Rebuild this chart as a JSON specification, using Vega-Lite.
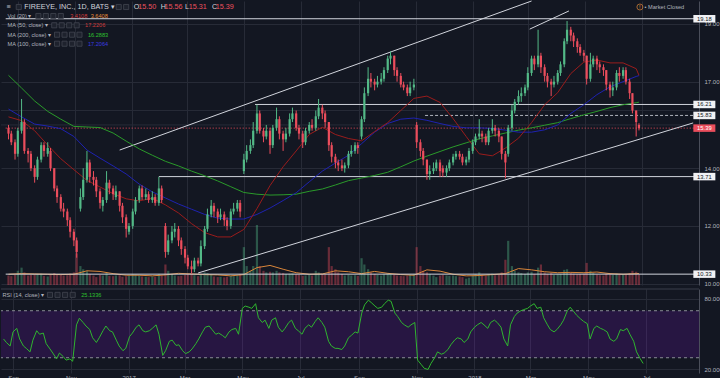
{
"$schema": "https://vega.github.io/schema/vega-lite/v6.json",
"background": "#131722",
"padding": 0,
"spacing": 1,
"config": {"view": {"stroke": null}, "font": "Liberation Sans", "axis": {"labelColor": "#b2b5be", "labelFontSize": 6, "labelFont": "Liberation Sans", "labelOverlap": false, "gridColor": "#272b37", "domainColor": "#4a4e5a", "tickColor": "#4a4e5a"}},
"datasets": {
"k": [
{"d":"2016-08-22","o":15.4,"h":15.5,"l":15.0,"c":15.2,"v":3.0,"r":46},
{"d":"2016-08-25","o":15.2,"h":15.3,"l":14.8,"c":14.9,"v":2.8,"r":43},
{"d":"2016-08-29","o":14.9,"h":15.0,"l":14.3,"c":14.5,"v":3.2,"r":40},
{"d":"2016-09-01","o":14.5,"h":15.4,"l":14.4,"c":15.3,"v":4.5,"r":52},
{"d":"2016-09-05","o":15.3,"h":16.4,"l":15.2,"c":15.6,"v":5.5,"r":55},
{"d":"2016-09-08","o":15.6,"h":15.7,"l":14.5,"c":14.6,"v":4.0,"r":46},
{"d":"2016-09-12","o":14.6,"h":14.7,"l":14.2,"c":14.5,"v":3.0,"r":40},
{"d":"2016-09-15","o":14.5,"h":14.6,"l":13.9,"c":14.0,"v":3.2,"r":38},
{"d":"2016-09-19","o":14.0,"h":14.1,"l":13.5,"c":13.7,"v":3.4,"r":35},
{"d":"2016-09-22","o":13.7,"h":14.4,"l":13.6,"c":14.3,"v":3.5,"r":45},
{"d":"2016-09-26","o":14.3,"h":14.9,"l":14.2,"c":14.8,"v":3.6,"r":53},
{"d":"2016-09-29","o":14.8,"h":14.9,"l":14.4,"c":14.6,"v":2.9,"r":50},
{"d":"2016-10-03","o":14.5,"h":14.9,"l":14.4,"c":14.7,"v":2.7,"r":51},
{"d":"2016-10-06","o":14.6,"h":14.7,"l":13.9,"c":14.0,"v":3.3,"r":42},
{"d":"2016-10-10","o":14.0,"h":14.0,"l":13.2,"c":13.3,"v":3.8,"r":37.5},
{"d":"2016-10-13","o":13.3,"h":13.4,"l":12.8,"c":13.0,"v":3.5,"r":34},
{"d":"2016-10-17","o":13.0,"h":13.1,"l":12.5,"c":12.6,"v":3.2,"r":29},
{"d":"2016-10-20","o":12.6,"h":12.8,"l":12.3,"c":12.5,"v":3.0,"r":34},
{"d":"2016-10-24","o":12.5,"h":12.6,"l":12.0,"c":12.2,"v":3.1,"r":31},
{"d":"2016-10-27","o":12.2,"h":12.3,"l":11.6,"c":11.8,"v":3.6,"r":28},
{"d":"2016-10-31","o":11.8,"h":11.9,"l":11.3,"c":11.5,"v":4.0,"r":29},
{"d":"2016-11-03","o":11.5,"h":11.6,"l":10.9,"c":11.1,"v":10.0,"r":27},
{"d":"2016-11-07","o":12.6,"h":13.3,"l":12.5,"c":13.0,"v":6.0,"r":58},
{"d":"2016-11-10","o":13.0,"h":14.0,"l":12.9,"c":13.6,"v":5.0,"r":63.6},
{"d":"2016-11-14","o":13.6,"h":14.6,"l":13.5,"c":14.2,"v":4.5,"r":60},
{"d":"2016-11-17","o":14.2,"h":14.3,"l":13.5,"c":13.7,"v":3.5,"r":57},
{"d":"2016-11-21","o":13.7,"h":13.9,"l":13.4,"c":13.6,"v":3.0,"r":54},
{"d":"2016-11-24","o":13.6,"h":13.7,"l":13.0,"c":13.2,"v":2.5,"r":47},
{"d":"2016-11-28","o":13.2,"h":13.3,"l":12.6,"c":12.8,"v":3.2,"r":43},
{"d":"2016-12-01","o":12.7,"h":13.0,"l":12.5,"c":12.9,"v":3.0,"r":47},
{"d":"2016-12-05","o":12.9,"h":13.9,"l":12.8,"c":13.5,"v":3.8,"r":53},
{"d":"2016-12-08","o":13.5,"h":13.6,"l":13.1,"c":13.3,"v":2.9,"r":57},
{"d":"2016-12-12","o":13.3,"h":13.4,"l":12.9,"c":13.1,"v":2.8,"r":53},
{"d":"2016-12-15","o":13.0,"h":13.4,"l":12.9,"c":13.2,"v":3.0,"r":52},
{"d":"2016-12-19","o":13.2,"h":13.2,"l":12.5,"c":12.7,"v":3.1,"r":45},
{"d":"2016-12-22","o":12.7,"h":12.8,"l":12.1,"c":12.3,"v":2.6,"r":40},
{"d":"2016-12-26","o":12.3,"h":12.4,"l":11.6,"c":11.9,"v":2.8,"r":36},
{"d":"2016-12-29","o":11.8,"h":12.1,"l":11.7,"c":12.0,"v":3.0,"r":38},
{"d":"2017-01-02","o":12.0,"h":12.6,"l":11.9,"c":12.5,"v":3.4,"r":48},
{"d":"2017-01-05","o":12.5,"h":13.0,"l":12.4,"c":12.9,"v":3.3,"r":51},
{"d":"2017-01-09","o":12.9,"h":13.4,"l":12.8,"c":13.3,"v":3.1,"r":56},
{"d":"2017-01-12","o":13.3,"h":13.4,"l":12.9,"c":13.0,"v":2.7,"r":58},
{"d":"2017-01-16","o":13.0,"h":13.3,"l":12.9,"c":13.1,"v":2.6,"r":53},
{"d":"2017-01-19","o":13.1,"h":13.2,"l":12.8,"c":12.9,"v":2.5,"r":52},
{"d":"2017-01-23","o":12.9,"h":13.2,"l":12.8,"c":13.0,"v":2.7,"r":53},
{"d":"2017-01-26","o":13.0,"h":13.1,"l":12.7,"c":12.8,"v":2.6,"r":55},
{"d":"2017-01-30","o":12.8,"h":13.7,"l":12.7,"c":13.3,"v":3.5,"r":58},
{"d":"2017-02-02","o":13.3,"h":13.4,"l":12.8,"c":12.9,"v":3.0,"r":50},
{"d":"2017-02-06","o":12.0,"h":12.1,"l":10.9,"c":11.1,"v":6.5,"r":32},
{"d":"2017-02-09","o":11.1,"h":11.7,"l":11.0,"c":11.5,"v":4.5,"r":36},
{"d":"2017-02-13","o":11.5,"h":12.0,"l":11.4,"c":11.8,"v":3.5,"r":44},
{"d":"2017-02-16","o":11.8,"h":12.1,"l":11.6,"c":11.9,"v":3.0,"r":45},
{"d":"2017-02-20","o":11.9,"h":12.0,"l":11.3,"c":11.5,"v":2.8,"r":40.5},
{"d":"2017-02-23","o":11.5,"h":11.6,"l":11.0,"c":11.2,"v":2.9,"r":41},
{"d":"2017-02-27","o":11.2,"h":11.3,"l":10.7,"c":10.9,"v":3.2,"r":36},
{"d":"2017-03-02","o":10.9,"h":11.0,"l":10.5,"c":10.6,"v":3.4,"r":33.5},
{"d":"2017-03-06","o":10.6,"h":10.8,"l":10.35,"c":10.5,"v":3.6,"r":35},
{"d":"2017-03-09","o":10.5,"h":10.9,"l":10.4,"c":10.8,"v":3.1,"r":37.5},
{"d":"2017-03-13","o":10.8,"h":10.9,"l":10.6,"c":10.7,"v":2.8,"r":42},
{"d":"2017-03-16","o":10.7,"h":11.5,"l":10.6,"c":11.3,"v":3.5,"r":46},
{"d":"2017-03-20","o":11.3,"h":12.0,"l":11.2,"c":11.9,"v":4.0,"r":52},
{"d":"2017-03-23","o":11.9,"h":12.6,"l":11.8,"c":12.4,"v":3.8,"r":56},
{"d":"2017-03-27","o":12.4,"h":12.9,"l":12.3,"c":12.7,"v":3.3,"r":57},
{"d":"2017-03-30","o":12.7,"h":12.8,"l":12.3,"c":12.5,"v":2.7,"r":54},
{"d":"2017-04-03","o":12.5,"h":12.6,"l":12.1,"c":12.3,"v":2.5,"r":50},
{"d":"2017-04-06","o":12.3,"h":12.6,"l":12.2,"c":12.4,"v":2.6,"r":51},
{"d":"2017-04-10","o":12.4,"h":12.5,"l":12.0,"c":12.2,"v":2.4,"r":49},
{"d":"2017-04-13","o":12.2,"h":12.3,"l":11.85,"c":12.0,"v":2.6,"r":47},
{"d":"2017-04-17","o":12.0,"h":12.6,"l":11.9,"c":12.5,"v":2.9,"r":52},
{"d":"2017-04-20","o":12.5,"h":12.8,"l":12.4,"c":12.6,"v":2.8,"r":54},
{"d":"2017-04-24","o":12.6,"h":12.9,"l":12.5,"c":12.8,"v":3.0,"r":55},
{"d":"2017-04-27","o":12.8,"h":12.9,"l":12.3,"c":12.5,"v":3.5,"r":50},
{"d":"2017-05-01","o":13.9,"h":14.5,"l":13.8,"c":14.3,"v":12.0,"r":72},
{"d":"2017-05-04","o":14.3,"h":14.8,"l":14.2,"c":14.6,"v":6.0,"r":74},
{"d":"2017-05-08","o":14.6,"h":15.0,"l":14.5,"c":14.8,"v":4.5,"r":73},
{"d":"2017-05-11","o":14.8,"h":15.6,"l":14.7,"c":15.3,"v":6.0,"r":72},
{"d":"2017-05-15","o":15.3,"h":16.2,"l":15.2,"c":15.9,"v":19.0,"r":76},
{"d":"2017-05-18","o":15.9,"h":16.0,"l":15.2,"c":15.3,"v":6.0,"r":64},
{"d":"2017-05-22","o":15.3,"h":15.4,"l":14.9,"c":15.1,"v":4.5,"r":60},
{"d":"2017-05-25","o":15.1,"h":15.5,"l":15.0,"c":15.3,"v":4.0,"r":62},
{"d":"2017-05-29","o":15.3,"h":15.4,"l":14.5,"c":14.8,"v":4.2,"r":55},
{"d":"2017-06-01","o":14.8,"h":15.5,"l":14.7,"c":15.4,"v":4.0,"r":62},
{"d":"2017-06-05","o":15.4,"h":16.1,"l":15.3,"c":15.7,"v":4.5,"r":64},
{"d":"2017-06-08","o":15.7,"h":15.8,"l":15.0,"c":15.2,"v":4.0,"r":56},
{"d":"2017-06-12","o":15.2,"h":15.3,"l":14.6,"c":15.0,"v":3.8,"r":52},
{"d":"2017-06-15","o":15.0,"h":15.4,"l":14.9,"c":15.2,"v":3.5,"r":55},
{"d":"2017-06-19","o":15.2,"h":15.9,"l":15.1,"c":15.7,"v":3.6,"r":60},
{"d":"2017-06-22","o":15.7,"h":16.1,"l":15.6,"c":15.9,"v":3.7,"r":62},
{"d":"2017-06-26","o":15.9,"h":16.0,"l":15.3,"c":15.4,"v":3.4,"r":55},
{"d":"2017-06-29","o":15.4,"h":15.5,"l":15.0,"c":15.2,"v":3.3,"r":53},
{"d":"2017-07-03","o":15.2,"h":15.3,"l":14.7,"c":14.9,"v":2.9,"r":50},
{"d":"2017-07-06","o":14.9,"h":15.4,"l":14.8,"c":15.3,"v":3.0,"r":55},
{"d":"2017-07-10","o":15.3,"h":15.6,"l":15.2,"c":15.5,"v":3.2,"r":58},
{"d":"2017-07-13","o":15.5,"h":15.7,"l":15.3,"c":15.4,"v":3.0,"r":56},
{"d":"2017-07-17","o":15.4,"h":16.0,"l":15.3,"c":15.8,"v":4.5,"r":61},
{"d":"2017-07-20","o":15.8,"h":16.4,"l":15.7,"c":16.1,"v":4.0,"r":64},
{"d":"2017-07-24","o":16.1,"h":16.2,"l":15.7,"c":15.9,"v":3.5,"r":60},
{"d":"2017-07-27","o":15.9,"h":16.0,"l":15.4,"c":15.6,"v":3.4,"r":56},
{"d":"2017-07-31","o":15.6,"h":15.6,"l":14.6,"c":14.8,"v":12.0,"r":44},
{"d":"2017-08-03","o":14.8,"h":14.9,"l":14.2,"c":14.4,"v":6.0,"r":40},
{"d":"2017-08-07","o":14.4,"h":14.5,"l":14.0,"c":14.2,"v":5.0,"r":38},
{"d":"2017-08-10","o":14.2,"h":14.3,"l":13.9,"c":14.1,"v":4.0,"r":38},
{"d":"2017-08-14","o":14.1,"h":14.3,"l":13.9,"c":14.0,"v":3.5,"r":37},
{"d":"2017-08-17","o":14.0,"h":14.2,"l":13.85,"c":14.1,"v":3.0,"r":40},
{"d":"2017-08-21","o":14.1,"h":14.6,"l":14.0,"c":14.5,"v":3.2,"r":47},
{"d":"2017-08-24","o":14.5,"h":14.8,"l":14.4,"c":14.6,"v":3.0,"r":49},
{"d":"2017-08-28","o":14.6,"h":14.9,"l":14.5,"c":14.8,"v":3.1,"r":52},
{"d":"2017-08-31","o":14.8,"h":14.9,"l":14.5,"c":14.7,"v":2.9,"r":51},
{"d":"2017-09-04","o":15.1,"h":15.8,"l":15.0,"c":15.7,"v":8.5,"r":68},
{"d":"2017-09-07","o":15.7,"h":16.8,"l":15.6,"c":16.6,"v":6.5,"r":75},
{"d":"2017-09-11","o":16.6,"h":17.5,"l":16.5,"c":17.1,"v":5.0,"r":79},
{"d":"2017-09-14","o":17.1,"h":17.3,"l":16.8,"c":17.0,"v":4.0,"r":77},
{"d":"2017-09-18","o":17.0,"h":17.1,"l":16.7,"c":16.9,"v":3.5,"r":74},
{"d":"2017-09-21","o":16.9,"h":17.2,"l":16.8,"c":17.0,"v":3.2,"r":72},
{"d":"2017-09-25","o":17.0,"h":17.3,"l":16.9,"c":17.1,"v":3.0,"r":73},
{"d":"2017-09-28","o":17.1,"h":17.5,"l":17.0,"c":17.4,"v":3.4,"r":76},
{"d":"2017-10-02","o":17.4,"h":17.9,"l":17.3,"c":17.8,"v":3.8,"r":79},
{"d":"2017-10-05","o":17.8,"h":18.05,"l":17.6,"c":17.9,"v":3.5,"r":78},
{"d":"2017-10-09","o":17.9,"h":17.9,"l":17.2,"c":17.4,"v":3.3,"r":68},
{"d":"2017-10-12","o":17.4,"h":17.5,"l":17.0,"c":17.2,"v":3.0,"r":65},
{"d":"2017-10-16","o":17.2,"h":17.3,"l":16.8,"c":16.9,"v":2.9,"r":60},
{"d":"2017-10-19","o":16.9,"h":17.0,"l":16.7,"c":16.8,"v":2.8,"r":58},
{"d":"2017-10-23","o":16.8,"h":16.9,"l":16.5,"c":16.6,"v":3.0,"r":56},
{"d":"2017-10-26","o":16.6,"h":17.0,"l":16.5,"c":16.8,"v":3.2,"r":58},
{"d":"2017-10-30","o":16.8,"h":17.1,"l":16.7,"c":16.9,"v":3.5,"r":60},
{"d":"2017-11-02","o":15.5,"h":15.6,"l":14.7,"c":14.9,"v":12.0,"r":28},
{"d":"2017-11-06","o":14.9,"h":15.0,"l":14.4,"c":14.6,"v":6.0,"r":24},
{"d":"2017-11-09","o":14.6,"h":14.7,"l":14.1,"c":14.3,"v":4.5,"r":21},
{"d":"2017-11-13","o":14.3,"h":14.3,"l":13.6,"c":13.8,"v":4.0,"r":20},
{"d":"2017-11-16","o":13.8,"h":14.1,"l":13.6,"c":13.9,"v":3.5,"r":25},
{"d":"2017-11-20","o":13.9,"h":14.2,"l":13.8,"c":14.0,"v":3.0,"r":30},
{"d":"2017-11-23","o":14.0,"h":14.3,"l":13.9,"c":14.2,"v":2.5,"r":35},
{"d":"2017-11-27","o":14.2,"h":14.3,"l":13.7,"c":13.9,"v":3.0,"r":33},
{"d":"2017-11-30","o":14.0,"h":14.1,"l":13.7,"c":13.85,"v":3.2,"r":34},
{"d":"2017-12-04","o":13.85,"h":14.1,"l":13.7,"c":14.0,"v":3.0,"r":37},
{"d":"2017-12-07","o":14.0,"h":14.3,"l":13.9,"c":14.2,"v":2.9,"r":41},
{"d":"2017-12-11","o":14.2,"h":14.5,"l":14.1,"c":14.4,"v":3.0,"r":45},
{"d":"2017-12-14","o":14.4,"h":14.6,"l":14.3,"c":14.5,"v":2.8,"r":47},
{"d":"2017-12-18","o":14.5,"h":14.6,"l":14.3,"c":14.4,"v":2.7,"r":46},
{"d":"2017-12-21","o":14.4,"h":14.5,"l":14.1,"c":14.2,"v":2.5,"r":43},
{"d":"2017-12-25","o":14.2,"h":14.4,"l":14.1,"c":14.3,"v":2.0,"r":46},
{"d":"2017-12-28","o":14.3,"h":14.7,"l":14.2,"c":14.6,"v":2.3,"r":52},
{"d":"2018-01-01","o":14.6,"h":15.0,"l":14.5,"c":14.9,"v":3.0,"r":56},
{"d":"2018-01-04","o":14.9,"h":15.2,"l":14.8,"c":15.1,"v":3.5,"r":58},
{"d":"2018-01-08","o":15.1,"h":15.7,"l":15.0,"c":15.2,"v":4.0,"r":60},
{"d":"2018-01-11","o":15.2,"h":15.3,"l":14.9,"c":15.1,"v":3.2,"r":58},
{"d":"2018-01-15","o":15.1,"h":15.2,"l":14.8,"c":14.9,"v":3.0,"r":55},
{"d":"2018-01-18","o":14.9,"h":15.4,"l":14.8,"c":15.3,"v":3.4,"r":60},
{"d":"2018-01-22","o":15.3,"h":15.7,"l":15.2,"c":15.4,"v":3.6,"r":62},
{"d":"2018-01-25","o":15.4,"h":15.5,"l":15.1,"c":15.3,"v":3.1,"r":60},
{"d":"2018-01-29","o":15.3,"h":15.4,"l":14.9,"c":15.1,"v":3.2,"r":56},
{"d":"2018-02-01","o":15.1,"h":15.1,"l":14.3,"c":14.5,"v":4.0,"r":46},
{"d":"2018-02-05","o":14.5,"h":14.6,"l":13.65,"c":14.2,"v":8.0,"r":40},
{"d":"2018-02-08","o":14.5,"h":15.5,"l":14.4,"c":15.4,"v":14.0,"r":58},
{"d":"2018-02-12","o":15.4,"h":16.2,"l":15.3,"c":16.0,"v":6.0,"r":65},
{"d":"2018-02-15","o":16.0,"h":16.4,"l":15.9,"c":16.3,"v":4.5,"r":68},
{"d":"2018-02-19","o":16.3,"h":16.7,"l":16.2,"c":16.5,"v":4.0,"r":70},
{"d":"2018-02-22","o":16.5,"h":16.8,"l":16.3,"c":16.6,"v":3.8,"r":71},
{"d":"2018-02-26","o":16.6,"h":16.9,"l":16.5,"c":16.8,"v":3.5,"r":72},
{"d":"2018-03-01","o":16.8,"h":17.5,"l":16.7,"c":17.3,"v":4.0,"r":74},
{"d":"2018-03-05","o":17.3,"h":17.9,"l":17.2,"c":17.8,"v":4.2,"r":76},
{"d":"2018-03-08","o":17.8,"h":17.9,"l":17.4,"c":17.6,"v":3.5,"r":72},
{"d":"2018-03-12","o":17.6,"h":18.8,"l":17.5,"c":17.9,"v":5.5,"r":73},
{"d":"2018-03-15","o":17.9,"h":18.0,"l":17.3,"c":17.5,"v":6.5,"r":64},
{"d":"2018-03-19","o":17.5,"h":17.6,"l":17.0,"c":17.2,"v":4.0,"r":58},
{"d":"2018-03-22","o":17.2,"h":17.3,"l":16.8,"c":17.0,"v":3.5,"r":54},
{"d":"2018-03-26","o":17.0,"h":17.1,"l":16.5,"c":16.9,"v":3.8,"r":52},
{"d":"2018-03-29","o":16.9,"h":17.2,"l":16.8,"c":17.0,"v":3.2,"r":54},
{"d":"2018-04-02","o":17.0,"h":17.4,"l":16.9,"c":17.3,"v":3.4,"r":58},
{"d":"2018-04-05","o":17.3,"h":17.7,"l":17.2,"c":17.6,"v":3.5,"r":62},
{"d":"2018-04-09","o":17.6,"h":18.5,"l":17.5,"c":18.4,"v":4.8,"r":70},
{"d":"2018-04-12","o":18.4,"h":19.1,"l":18.3,"c":18.8,"v":5.0,"r":73},
{"d":"2018-04-16","o":18.8,"h":18.9,"l":18.4,"c":18.6,"v":4.0,"r":69},
{"d":"2018-04-19","o":18.6,"h":18.7,"l":18.2,"c":18.4,"v":3.6,"r":66},
{"d":"2018-04-23","o":18.4,"h":18.5,"l":18.0,"c":18.2,"v":3.4,"r":63},
{"d":"2018-04-26","o":18.2,"h":18.3,"l":17.9,"c":18.0,"v":3.5,"r":61},
{"d":"2018-04-30","o":18.0,"h":18.1,"l":17.7,"c":17.9,"v":3.6,"r":59},
{"d":"2018-05-03","o":17.9,"h":17.9,"l":16.9,"c":17.1,"v":7.0,"r":46},
{"d":"2018-05-07","o":17.1,"h":18.0,"l":17.0,"c":17.6,"v":4.5,"r":55},
{"d":"2018-05-10","o":17.6,"h":17.9,"l":17.5,"c":17.8,"v":3.8,"r":57},
{"d":"2018-05-14","o":17.8,"h":17.9,"l":17.4,"c":17.6,"v":3.3,"r":55},
{"d":"2018-05-17","o":17.6,"h":17.7,"l":17.3,"c":17.5,"v":3.1,"r":54},
{"d":"2018-05-21","o":17.5,"h":17.6,"l":17.2,"c":17.4,"v":3.0,"r":52},
{"d":"2018-05-24","o":17.4,"h":17.4,"l":16.7,"c":16.9,"v":3.5,"r":46},
{"d":"2018-05-28","o":16.9,"h":17.0,"l":16.45,"c":16.7,"v":3.4,"r":44},
{"d":"2018-05-31","o":16.7,"h":17.0,"l":16.5,"c":16.8,"v":3.2,"r":46},
{"d":"2018-06-04","o":16.8,"h":17.4,"l":16.7,"c":17.3,"v":3.6,"r":54},
{"d":"2018-06-07","o":17.3,"h":17.5,"l":17.0,"c":17.2,"v":3.4,"r":53},
{"d":"2018-06-11","o":17.2,"h":17.5,"l":17.1,"c":17.4,"v":3.2,"r":55},
{"d":"2018-06-14","o":17.4,"h":17.5,"l":16.9,"c":17.0,"v":3.3,"r":50},
{"d":"2018-06-18","o":17.0,"h":17.1,"l":16.4,"c":16.6,"v":3.8,"r":44},
{"d":"2018-06-21","o":16.6,"h":16.6,"l":15.9,"c":16.0,"v":4.5,"r":35},
{"d":"2018-06-25","o":16.0,"h":16.0,"l":15.1,"c":15.6,"v":4.2,"r":29},
{"d":"2018-06-28","o":15.5,"h":15.56,"l":15.31,"c":15.39,"v":3.41,"r":25.13}
],
"m": [
{"d":"2016-08-22","a":15.78,"b":16.05,"g":17.22,"vm":3.4},
{"d":"2016-09-05","a":15.65,"b":15.78,"g":16.78,"vm":3.6},
{"d":"2016-09-19","a":15.3,"b":15.53,"g":16.33,"vm":3.5},
{"d":"2016-10-03","a":14.8,"b":15.46,"g":15.97,"vm":3.4},
{"d":"2016-10-17","a":14.33,"b":15.37,"g":15.7,"vm":3.3},
{"d":"2016-10-31","a":13.95,"b":15.1,"g":15.45,"vm":3.4},
{"d":"2016-11-14","a":13.58,"b":14.63,"g":15.43,"vm":4.5},
{"d":"2016-11-28","a":13.35,"b":14.35,"g":15.41,"vm":4.3},
{"d":"2016-12-12","a":13.12,"b":14.08,"g":15.22,"vm":3.6},
{"d":"2016-12-26","a":12.94,"b":13.8,"g":14.94,"vm":3.1},
{"d":"2017-01-09","a":12.87,"b":13.45,"g":14.67,"vm":3.1},
{"d":"2017-01-23","a":12.96,"b":13.18,"g":14.45,"vm":2.9},
{"d":"2017-02-06","a":12.73,"b":12.97,"g":14.24,"vm":3.2},
{"d":"2017-02-20","a":12.45,"b":12.76,"g":14.08,"vm":3.7},
{"d":"2017-03-06","a":12.08,"b":12.58,"g":13.9,"vm":3.5},
{"d":"2017-03-20","a":11.77,"b":12.4,"g":13.74,"vm":3.3},
{"d":"2017-04-03","a":11.62,"b":12.27,"g":13.56,"vm":3.2},
{"d":"2017-04-17","a":11.62,"b":12.24,"g":13.36,"vm":2.9},
{"d":"2017-05-01","a":11.88,"b":12.24,"g":13.16,"vm":3.3},
{"d":"2017-05-15","a":12.6,"b":12.4,"g":13.1,"vm":5.5},
{"d":"2017-05-29","a":13.4,"b":12.62,"g":13.07,"vm":6.2},
{"d":"2017-06-12","a":14.05,"b":12.88,"g":13.08,"vm":5.0},
{"d":"2017-06-26","a":14.6,"b":13.15,"g":13.1,"vm":3.9},
{"d":"2017-07-10","a":15.17,"b":13.53,"g":13.2,"vm":3.4},
{"d":"2017-07-24","a":15.42,"b":13.9,"g":13.28,"vm":3.5},
{"d":"2017-08-07","a":15.17,"b":14.18,"g":13.42,"vm":4.5},
{"d":"2017-08-21","a":15.03,"b":14.45,"g":13.57,"vm":4.2},
{"d":"2017-09-04","a":14.95,"b":14.85,"g":13.66,"vm":3.6},
{"d":"2017-09-18","a":15.27,"b":15.25,"g":13.75,"vm":4.3},
{"d":"2017-10-02","a":15.58,"b":15.55,"g":13.86,"vm":3.7},
{"d":"2017-10-16","a":16.0,"b":15.7,"g":14.05,"vm":3.3},
{"d":"2017-10-30","a":16.42,"b":15.74,"g":14.25,"vm":3.1},
{"d":"2017-11-13","a":16.5,"b":15.66,"g":14.42,"vm":4.8},
{"d":"2017-11-27","a":16.28,"b":15.55,"g":14.58,"vm":4.4},
{"d":"2017-12-11","a":15.72,"b":15.45,"g":14.74,"vm":3.4},
{"d":"2017-12-25","a":15.1,"b":15.4,"g":14.88,"vm":2.9},
{"d":"2018-01-08","a":14.5,"b":15.4,"g":15.02,"vm":3.0},
{"d":"2018-01-22","a":14.43,"b":15.38,"g":15.12,"vm":3.3},
{"d":"2018-02-05","a":14.7,"b":15.32,"g":15.22,"vm":3.6},
{"d":"2018-02-19","a":15.04,"b":15.25,"g":15.32,"vm":5.2},
{"d":"2018-03-05","a":15.58,"b":15.25,"g":15.4,"vm":4.8},
{"d":"2018-03-19","a":16.2,"b":15.33,"g":15.49,"vm":4.2},
{"d":"2018-04-02","a":16.62,"b":15.5,"g":15.58,"vm":3.9},
{"d":"2018-04-16","a":17.28,"b":15.9,"g":15.72,"vm":4.0},
{"d":"2018-04-30","a":17.68,"b":16.2,"g":15.85,"vm":3.9},
{"d":"2018-05-14","a":17.75,"b":16.55,"g":15.97,"vm":4.1},
{"d":"2018-05-28","a":17.65,"b":16.82,"g":16.1,"vm":3.6},
{"d":"2018-06-11","a":17.65,"b":17.0,"g":16.2,"vm":3.4},
{"d":"2018-06-25","a":17.45,"b":17.18,"g":16.27,"vm":3.6},
{"d":"2018-06-28","a":17.22,"b":17.21,"g":16.29,"vm":3.64}
]
},
"vconcat": [
{
"width": 698, "height": 284,
"resolve": {"scale": {"y": "independent"}},
"layer": [
{"layer": [
{"data": {"name": "k"}, "mark": {"type": "bar", "width": 2.2, "opacity": 0.4},
 "encoding": {
  "x": {"field": "d", "type": "temporal", "title": null, "scale": {"type": "utc", "domain": [{"year": 2016, "month": 8, "date": 19, "hours": 8, "utc": true}, {"year": 2018, "month": 8, "date": 25, "hours": 22, "utc": true}]}, "axis": {"labels": false, "ticks": false, "domain": false, "grid": true, "tickCount": {"interval": "month", "step": 2}}},
  "y": {"field": "v", "type": "quantitative", "scale": {"domain": [0, 90], "nice": false}, "axis": null},
  "color": {"condition": {"test": "datum.c >= datum.o", "value": "#53b987"}, "value": "#eb4d5c"}}},
{"data": {"name": "m"}, "mark": {"type": "line", "color": "#d9863a", "strokeWidth": 1},
 "encoding": {"x": {"field": "d", "type": "temporal"}, "y": {"field": "vm", "type": "quantitative", "axis": null}}}
]},
{"layer": [
{"data": {"values": [{"p": 19.18, "s": "2016-08-19", "e": "2018-08-26"}, {"p": 16.21, "s": "2017-05-13", "e": "2018-08-26"}, {"p": 13.71, "s": "2017-01-30", "e": "2018-08-26"}, {"p": 10.33, "s": "2016-08-19", "e": "2018-08-26"}]},
 "mark": {"type": "rule", "color": "#d1d4dc", "strokeWidth": 1},
 "encoding": {"x": {"field": "s", "type": "temporal"}, "x2": {"field": "e"},
  "y": {"field": "p", "type": "quantitative", "title": null, "scale": {"domain": [9.954, 19.795], "nice": false, "zero": false}, "axis": {"orient": "right", "values": [10, 10.5, 11, 11.5, 12, 12.5, 13, 13.5, 14, 14.5, 15, 16.5, 17, 17.5, 18, 18.5, 19, 19.5], "format": ".2f", "grid": true, "gridColor": "#272b37", "ticks": false, "labels": true, "labelOverlap": false, "labelPadding": 5, "domain": true}}}},
{"data": {"values": [{"p": 15.5}, {"p": 16.0}]},
 "mark": {"type": "rule", "color": "#272b37", "strokeWidth": 1},
 "encoding": {"y": {"field": "p", "type": "quantitative"}}},
{"data": {"values": [{"p": 15.83, "s": "2017-11-11", "e": "2018-08-26"}]},
 "mark": {"type": "rule", "color": "#b2b5be", "strokeWidth": 1, "strokeDash": [3, 2]},
 "encoding": {"x": {"field": "s", "type": "temporal"}, "x2": {"field": "e"}, "y": {"field": "p", "type": "quantitative"}}},
{"data": {"values": [{"p": 15.39, "s": "2016-08-19", "e": "2018-08-26"}]},
 "mark": {"type": "rule", "color": "#eb4d5c", "strokeWidth": 1, "strokeDash": [1, 2]},
 "encoding": {"x": {"field": "s", "type": "temporal"}, "x2": {"field": "e"}, "y": {"field": "p", "type": "quantitative"}}},
{"data": {"values": [{"s": "2016-12-19", "p": 14.63, "e": "2018-03-05", "q": 19.795}, {"s": "2018-03-03", "p": 18.82, "e": "2018-04-14", "q": 19.45}, {"s": "2017-03-13", "p": 10.37, "e": "2018-08-25", "q": 15.57}]},
 "mark": {"type": "rule", "color": "#d1d4dc", "strokeWidth": 1},
 "encoding": {"x": {"field": "s", "type": "temporal"}, "x2": {"field": "e"}, "y": {"field": "p", "type": "quantitative"}, "y2": {"field": "q"}}},
{"data": {"name": "m"}, "mark": {"type": "line", "color": "#2a9a2a", "strokeWidth": 1},
 "encoding": {"x": {"field": "d", "type": "temporal"}, "y": {"field": "g", "type": "quantitative"}}},
{"data": {"name": "m"}, "mark": {"type": "line", "color": "#1e22b0", "strokeWidth": 1},
 "encoding": {"x": {"field": "d", "type": "temporal"}, "y": {"field": "b", "type": "quantitative"}}},
{"data": {"name": "m"}, "mark": {"type": "line", "color": "#9a1c1c", "strokeWidth": 1},
 "encoding": {"x": {"field": "d", "type": "temporal"}, "y": {"field": "a", "type": "quantitative"}}},
{"data": {"name": "k"}, "mark": {"type": "rule", "strokeWidth": 1},
 "encoding": {"x": {"field": "d", "type": "temporal"}, "y": {"field": "l", "type": "quantitative"}, "y2": {"field": "h"},
  "color": {"condition": {"test": "datum.c >= datum.o", "value": "#53b987"}, "value": "#eb4d5c"}}},
{"data": {"name": "k"}, "mark": {"type": "bar", "width": 2.2},
 "encoding": {"x": {"field": "d", "type": "temporal"}, "y": {"field": "o", "type": "quantitative"}, "y2": {"field": "c"},
  "color": {"condition": {"test": "datum.c >= datum.o", "value": "#53b987"}, "value": "#eb4d5c"}}},
{"data": {"values": [{"p": 19.18, "t": "19.18"}, {"p": 16.21, "t": "16.21"}, {"p": 15.83, "t": "15.83"}, {"p": 13.71, "t": "13.71"}, {"p": 10.33, "t": "10.33"}]},
 "layer": [
  {"mark": {"type": "tick", "orient": "horizontal", "size": 22, "thickness": 7.5, "color": "#f0f1f4", "opacity": 1},
   "encoding": {"x": {"datum": {"year": 2018, "month": 9, "date": 6, "utc": true}, "type": "temporal"}, "y": {"field": "p", "type": "quantitative"}}},
  {"mark": {"type": "text", "fontSize": 5.8, "color": "#131722", "align": "center", "baseline": "middle"},
   "encoding": {"x": {"datum": {"year": 2018, "month": 9, "date": 6, "utc": true}, "type": "temporal"}, "y": {"field": "p", "type": "quantitative"}, "text": {"field": "t"}}}
 ]},
{"data": {"values": [{"p": 15.39, "t": "15.39"}]},
 "layer": [
  {"mark": {"type": "tick", "orient": "horizontal", "size": 22, "thickness": 7.5, "color": "#eb4d5c", "opacity": 1},
   "encoding": {"x": {"datum": {"year": 2018, "month": 9, "date": 6, "utc": true}, "type": "temporal"}, "y": {"field": "p", "type": "quantitative"}}},
  {"mark": {"type": "text", "fontSize": 5.8, "color": "#ffffff", "align": "center", "baseline": "middle"},
   "encoding": {"x": {"datum": {"year": 2018, "month": 9, "date": 6, "utc": true}, "type": "temporal"}, "y": {"field": "p", "type": "quantitative"}, "text": {"field": "t"}}}
 ]},
{"data": {"values": [
  {"d": "2016-09-02", "p": 19.587},
  {"d": "2016-12-18", "p": 19.587}, {"d": "2016-12-26", "p": 19.587},
  {"d": "2016-09-23", "p": 19.275}, {"d": "2016-10-01", "p": 19.275}, {"d": "2016-10-09", "p": 19.275}, {"d": "2016-10-17", "p": 19.275},
  {"d": "2016-10-10", "p": 18.953}, {"d": "2016-10-18", "p": 18.953}, {"d": "2016-10-26", "p": 18.953}, {"d": "2016-11-03", "p": 18.953},
  {"d": "2016-10-13", "p": 18.627}, {"d": "2016-10-21", "p": 18.627}, {"d": "2016-10-29", "p": 18.627}, {"d": "2016-11-06", "p": 18.627},
  {"d": "2016-10-13", "p": 18.315}, {"d": "2016-10-21", "p": 18.315}, {"d": "2016-10-29", "p": 18.315}, {"d": "2016-11-06", "p": 18.315}]},
 "mark": {"type": "square", "size": 26, "filled": true, "color": "#1e222d", "stroke": "#434651", "strokeWidth": 0.8, "opacity": 1},
 "encoding": {"x": {"field": "d", "type": "temporal"}, "y": {"field": "p", "type": "quantitative"}}},
{"data": {"values": [
  {"t": "≡", "d": "2016-08-20", "k": "l"},
  {"t": "FIREEYE, INC., 1D, BATS ▾", "d": "2016-09-08", "k": "w"},
  {"t": "O", "d": "2017-01-03", "k": "w"}, {"t": "15.50", "d": "2017-01-08", "k": "r"},
  {"t": "H", "d": "2017-02-01", "k": "w"}, {"t": "15.56", "d": "2017-02-05", "k": "r"},
  {"t": "L", "d": "2017-02-27", "k": "w"}, {"t": "15.31", "d": "2017-03-03", "k": "r"},
  {"t": "C", "d": "2017-03-28", "k": "w"}, {"t": "15.39", "d": "2017-04-01", "k": "r"}]},
 "mark": {"type": "text", "fontSize": 7.2, "align": "left", "baseline": "middle"},
 "encoding": {"x": {"field": "d", "type": "temporal"}, "y": {"datum": 19.587, "type": "quantitative"}, "text": {"field": "t"},
  "color": {"field": "k", "type": "nominal", "legend": null, "scale": {"domain": ["w", "r", "l", "r2", "o", "g", "b"], "range": ["#d1d4dc", "#f0525f", "#b2b5be", "#d23c3c", "#e38a3a", "#2ec02e", "#3a3ae0"]}}}},
{"data": {"values": [
  {"t": "Vol (20) ▾", "d": "2016-08-21", "p": 19.275, "k": "l"}, {"t": "3.4108", "d": "2016-10-27", "p": 19.275, "k": "r2"}, {"t": "3.6408", "d": "2016-11-18", "p": 19.275, "k": "o"},
  {"t": "MA (50, close) ▾", "d": "2016-08-21", "p": 18.953, "k": "l"}, {"t": "17.2206", "d": "2016-11-12", "p": 18.953, "k": "r2"},
  {"t": "MA (200, close) ▾", "d": "2016-08-21", "p": 18.627, "k": "l"}, {"t": "16.2883", "d": "2016-11-15", "p": 18.627, "k": "g"},
  {"t": "MA (100, close) ▾", "d": "2016-08-21", "p": 18.315, "k": "l"}, {"t": "17.2064", "d": "2016-11-15", "p": 18.315, "k": "b"},
  {"t": "• Market Closed", "d": "2018-07-04", "p": 19.587, "k": "l"}, {"t": "!", "d": "2018-06-28", "p": 19.587, "k": "o"}]},
 "mark": {"type": "text", "fontSize": 5.6, "align": "left", "baseline": "middle"},
 "encoding": {"x": {"field": "d", "type": "temporal"}, "y": {"field": "p", "type": "quantitative"}, "text": {"field": "t"},
  "color": {"field": "k", "type": "nominal", "legend": null}}},
{"data": {"values": [{"t": "closed"}]},
 "mark": {"type": "point", "shape": "circle", "size": 36, "filled": false, "stroke": "#e38a3a", "strokeWidth": 1},
 "encoding": {"x": {"datum": {"year": 2018, "month": 6, "date": 29, "utc": true}, "type": "temporal"}, "y": {"datum": 19.587, "type": "quantitative"}}}
]}
]
},
{
"width": 698, "height": 84,
"layer": [
{"data": {"values": [{}]},
 "mark": {"type": "rect", "color": "#9915ff", "opacity": 0.15},
 "encoding": {
  "x": {"datum": {"year": 2016, "month": 8, "date": 19, "hours": 8, "utc": true}, "type": "temporal", "title": null, "scale": {"type": "utc", "domain": [{"year": 2016, "month": 8, "date": 19, "hours": 8, "utc": true}, {"year": 2018, "month": 8, "date": 25, "hours": 22, "utc": true}]},
   "axis": {"grid": true, "ticks": false, "domain": false, "labels": true, "labelOverlap": false, "labelFlush": false, "labelPadding": 1, "tickCount": {"interval": "month", "step": 2}, "labelExpr": "utcFormat(datum.value, '%m') == '01' ? utcFormat(datum.value, '%Y') : utcFormat(datum.value, '%b')"}},
  "x2": {"datum": {"year": 2018, "month": 8, "date": 25, "hours": 22, "utc": true}},
  "y": {"datum": 70, "type": "quantitative", "title": null, "scale": {"domain": [17.02, 88.5], "nice": false, "zero": false}, "axis": {"orient": "right", "values": [20, 40, 60, 80], "format": ".4f", "grid": true, "ticks": false, "labels": true, "labelOverlap": false, "labelPadding": 5, "domain": true}},
  "y2": {"datum": 30}}},
{"data": {"values": [{"r": 70}, {"r": 30}]},
 "mark": {"type": "rule", "color": "#8a8d96", "strokeDash": [3, 3], "strokeWidth": 1},
 "encoding": {"y": {"field": "r", "type": "quantitative"}}},
{"data": {"values": [{}]},
 "mark": {"type": "rule", "color": "#3a3e4a", "strokeWidth": 1},
 "encoding": {"y": {"datum": 88.5, "type": "quantitative"}}},
{"data": {"name": "k"}, "mark": {"type": "line", "color": "#2fb52f", "strokeWidth": 1},
 "encoding": {"x": {"field": "d", "type": "temporal"}, "y": {"field": "r", "type": "quantitative"}}},
{"data": {"values": [{"d": "2016-10-10"}, {"d": "2016-10-18"}, {"d": "2016-10-26"}, {"d": "2016-11-03"}]},
 "mark": {"type": "square", "size": 26, "filled": true, "color": "#1e222d", "stroke": "#434651", "strokeWidth": 0.8, "opacity": 1},
 "encoding": {"x": {"field": "d", "type": "temporal"}, "y": {"datum": 83.5, "type": "quantitative"}}},
{"data": {"values": [{"t": "RSI (14, close) ▾", "d": "2016-08-21"}]},
 "mark": {"type": "text", "fontSize": 5.6, "align": "left", "baseline": "middle", "color": "#b2b5be"},
 "encoding": {"x": {"field": "d", "type": "temporal"}, "y": {"datum": 83.5, "type": "quantitative"}, "text": {"field": "t"}}},
{"data": {"values": [{"t": "25.1336", "d": "2016-11-12"}]},
 "mark": {"type": "text", "fontSize": 5.6, "align": "left", "baseline": "middle", "color": "#2ec02e"},
 "encoding": {"x": {"field": "d", "type": "temporal"}, "y": {"datum": 83.5, "type": "quantitative"}, "text": {"field": "t"}}}
]
}
]
}
